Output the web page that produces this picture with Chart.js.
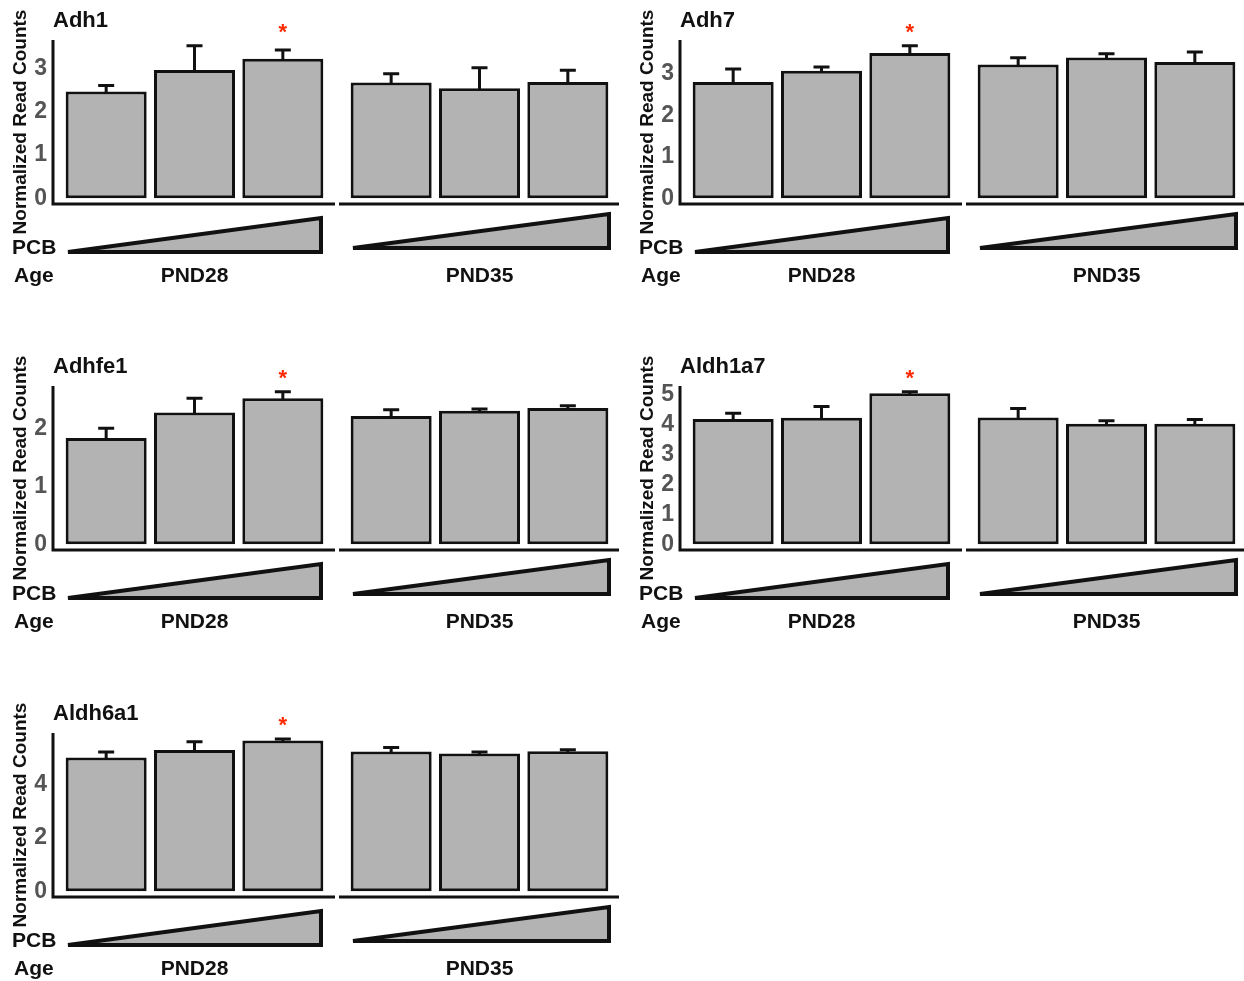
<!DOCTYPE html>
<html>
<head>
<meta charset="utf-8">
<script src="https://cdn.jsdelivr.net/npm/chart.js@4.4.1/dist/chart.umd.min.js"></script>
<style>
body { margin: 0; background: #fff; width: 1244px; height: 981px; overflow: hidden; position: relative; }
canvas { position: absolute; }
</style>
</head>
<body>
<script>
// Gene panels, in reading order
const genes = ['Adh1', 'Adh7', 'Adhfe1', 'Aldh1a7', 'Aldh6a1'];
const ages = ['PND28', 'PND35'];
const doses = ['PCB low', 'PCB mid', 'PCB high'];

// Mean normalized read counts (3 PCB doses per age)
const pnd28Mean = [
    [2.46, 2.96, 3.22],
    [2.80, 3.07, 3.50],
    [1.84, 2.28, 2.53],
    [4.18, 4.22, 5.04],
    [5.00, 5.28, 5.64]
];
const pnd35Mean = [
    [2.67, 2.54, 2.68],
    [3.22, 3.39, 3.28],
    [2.22, 2.31, 2.36],
    [4.23, 4.02, 4.02],
    [5.23, 5.15, 5.24]
];
// Upper error bar lengths
const pnd28Err = [
    [0.14, 0.56, 0.20],
    [0.31, 0.09, 0.17],
    [0.17, 0.25, 0.11],
    [0.19, 0.38, 0.05],
    [0.21, 0.31, 0.06]
];
const pnd35Err = [
    [0.20, 0.47, 0.27],
    [0.16, 0.09, 0.24],
    [0.11, 0.03, 0.04],
    [0.30, 0.10, 0.14],
    [0.15, 0.06, 0.05]
];
// index of the starred bar in the PND28 group
const pnd28Star = [2, 2, 2, 2, 2];

// y axis
const yTicks = [[0, 1, 2, 3], [0, 1, 2, 3], [0, 1, 2], [0, 1, 2, 3, 4, 5], [0, 2, 4]];
const yMax = [3.65, 3.81, 2.74, 5.28, 5.92];

const panelPos = [[0, 0], [627, 0], [0, 346], [627, 346], [0, 693]];

const FONT = '"Liberation Sans", Arial, Helvetica, sans-serif';
const ink = '#111';
const fill = '#b3b3b3';

// draws error bars, axis lines, PCB wedge and labels
const decor = {
    id: 'decor',
    afterDatasetsDraw(chart, args, opts) {
        const ctx = chart.ctx;
        const y = chart.scales.y;
        const vals = chart.data.datasets[0].data;
        ctx.save();
        ctx.strokeStyle = ink;
        ctx.lineWidth = 3;
        chart.getDatasetMeta(0).data.forEach((bar, i) => {
            const top = y.getPixelForValue(vals[i] + opts.err[i]);
            ctx.beginPath();
            ctx.moveTo(bar.x, bar.y + 2);
            ctx.lineTo(bar.x, top);
            ctx.moveTo(bar.x - 8, top);
            ctx.lineTo(bar.x + 8, top);
            ctx.stroke();
        });
        ctx.restore();
    },
    afterDraw(chart, args, opts) {
        const ctx = chart.ctx;
        const ca = chart.chartArea;
        const bars = chart.getDatasetMeta(0).data;
        const left = opts.side === 'left';
        ctx.save();
        ctx.strokeStyle = ink;
        ctx.lineWidth = 3;
        ctx.lineCap = 'butt';

        // axis lines
        ctx.beginPath();
        if (left) {
            ctx.moveTo(ca.left - 9, ca.top);
            ctx.lineTo(ca.left - 9, ca.bottom + 1.5);
            ctx.moveTo(ca.left - 10.5, ca.bottom);
            ctx.lineTo(ca.right + 8, ca.bottom);
        } else {
            ctx.moveTo(ca.left - 8, ca.bottom);
            ctx.lineTo(ca.right + 9, ca.bottom);
        }
        ctx.stroke();

        // PCB dose wedge
        const x0 = ca.left + 6;
        const x1 = left ? ca.right - 6 : ca.right - 3;
        const yb = left ? ca.bottom + 48 : ca.bottom + 44;
        ctx.beginPath();
        ctx.moveTo(x0, yb);
        ctx.lineTo(x1, yb - 34);
        ctx.lineTo(x1, yb);
        ctx.closePath();
        ctx.fillStyle = fill;
        ctx.fill();
        ctx.lineWidth = 4;
        ctx.lineJoin = 'miter';
        ctx.stroke();

        // labels
        ctx.fillStyle = ink;
        ctx.font = 'bold 21px ' + FONT;
        ctx.textBaseline = 'middle';
        ctx.textAlign = 'center';
        ctx.fillText(opts.age, (ca.left + ca.right) / 2, ca.bottom + 72);
        if (left) {
            ctx.textAlign = 'left';
            ctx.fillText('PCB', 12, ca.bottom + 44);
            ctx.fillText('Age', 14, ca.bottom + 72);
            ctx.font = 'bold 22px ' + FONT;
            ctx.fillText(opts.gene, ca.left - 9, ca.top - 19);
        }
        if (opts.star !== null) {
            ctx.fillStyle = '#ff2a00';
            ctx.font = 'bold 22px ' + FONT;
            ctx.textAlign = 'center';
            ctx.textBaseline = 'alphabetic';
            ctx.fillText('*', bars[opts.star].x, ca.top - 1);
        }
        ctx.restore();
    }
};

function makeCanvas(x, y, w, h) {
    const c = document.createElement('canvas');
    c.width = w;
    c.height = h;
    c.style.left = x + 'px';
    c.style.top = y + 'px';
    c.style.width = w + 'px';
    c.style.height = h + 'px';
    document.body.appendChild(c);
    return c;
}

function makeChart(g, side) {
    const left = side === 'left';
    const [ox, oy] = panelPos[g];
    const canvas = left ? makeCanvas(ox, oy, 337, 290) : makeCanvas(ox + 337, oy, 282, 290);
    const max = yMax[g];
    const min = -max * 0.036; // x axis line sits a little below zero
    const yScale = {
        display: left,
        min: min,
        max: max,
        afterBuildTicks: s => { s.ticks = yTicks[g].map(v => ({ value: v })); },
        grid: { display: false, drawTicks: false },
        border: { display: false },
        ticks: {
            padding: 15,
            color: '#555',
            font: { family: FONT, size: 23, weight: 'bold' }
        },
        title: {
            display: true,
            text: 'Normalized Read Counts',
            color: ink,
            font: { family: FONT, size: 19, weight: 'bold' },
            padding: { top: 9, bottom: 0 }
        }
    };
    if (left) yScale.afterFit = s => { s.width = 62; };
    return new Chart(canvas, {
        type: 'bar',
        data: {
            labels: doses,
            datasets: [{
                data: left ? pnd28Mean[g] : pnd35Mean[g],
                backgroundColor: fill,
                borderColor: ink,
                borderWidth: 3,
                borderSkipped: false,
                categoryPercentage: 1,
                barPercentage: 0.917
            }]
        },
        options: {
            responsive: false,
            animation: false,
            devicePixelRatio: 1,
            layout: { padding: left ? { top: 40, bottom: 86, left: 0, right: 10 } : { top: 40, bottom: 86, left: 10, right: 7 } },
            plugins: {
                legend: { display: false },
                tooltip: { enabled: false },
                decor: {
                    side: side,
                    gene: genes[g],
                    age: left ? ages[0] : ages[1],
                    err: left ? pnd28Err[g] : pnd35Err[g],
                    star: left ? pnd28Star[g] : null
                }
            },
            scales: {
                x: { display: false },
                y: yScale
            }
        },
        plugins: [decor]
    });
}

genes.forEach((gene, g) => {
    makeChart(g, 'left');
    makeChart(g, 'right');
});
</script>
</body>
</html>
